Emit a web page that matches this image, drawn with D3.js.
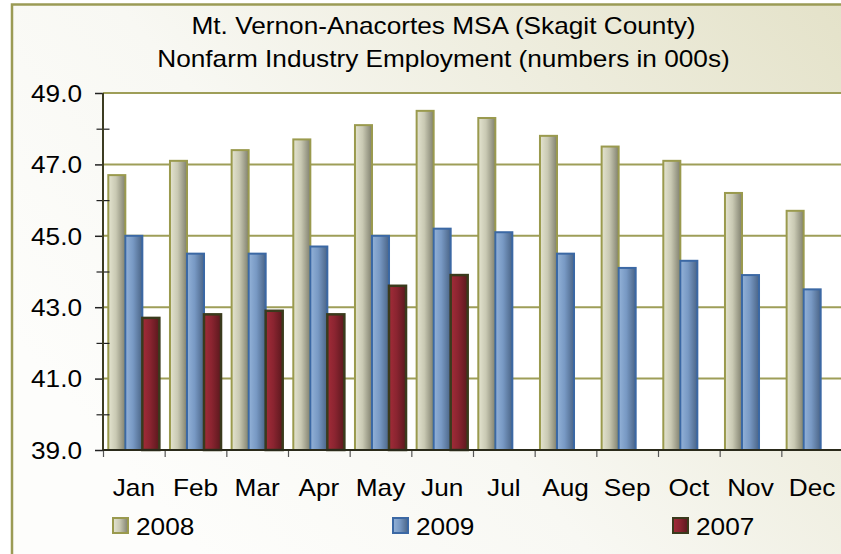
<!DOCTYPE html>
<html>
<head>
<meta charset="utf-8">
<script src="https://cdn.jsdelivr.net/npm/d3@7"></script>
<style>
  body { margin: 0; background: #fff; }
  svg { display: block; }
  text { font-family: "Liberation Sans", Arial, sans-serif; fill: #000; }
</style>
</head>
<body>
<div id="chart"></div>
<script>
// data
const months = ['Jan', 'Feb', 'Mar', 'Apr', 'May', 'Jun', 'Jul', 'Aug', 'Sep', 'Oct', 'Nov', 'Dec'];
const seriesNames = ['2008', '2009', '2007'];
const values2008 = [46.7, 47.1, 47.4, 47.7, 48.1, 48.5, 48.3, 47.8, 47.5, 47.1, 46.2, 45.7];
const values2009 = [45.0, 44.5, 44.5, 44.7, 45.0, 45.2, 45.1, 44.5, 44.1, 44.3, 43.9, 43.5];
const values2007 = [42.7, 42.8, 42.9, 42.8, 43.6, 43.9, null, null, null, null, null, null];
const majorTicks = [39, 41, 43, 45, 47, 49];
const minorTicks = [40, 42, 44, 46, 48];
const titleLines = ['Mt. Vernon-Anacortes MSA (Skagit County)', 'Nonfarm Industry Employment (numbers in 000s)'];

// constants
const W = 841, H = 554;
const fontSize = 23, stretch = 1.14;
const margins = { top: 93, left: 103 };
const plotW = 740, plotH = 357;

const styles = {
  '2008': { stroke: '#9a9a4e', width: 2, stops: ['#e4e4d0', '#c9c9b3', '#80806e'] },
  '2009': { stroke: '#3b68a4', width: 2, stops: ['#93b2d8', '#7899c4', '#4a6486'] },
  '2007': { stroke: '#3a3a1c', width: 2.5, stops: ['#a22c38', '#8a2430', '#5a181d'] }
};

const rows = months.map((m, i) => ({
  month: m,
  '2008': values2008[i],
  '2009': values2009[i],
  '2007': values2007[i]
}));

const $svg = d3.select('#chart').append('svg')
  .attr('width', W)
  .attr('height', H);

const defs = $svg.append('defs');

const bg = defs.append('linearGradient')
  .attr('id', 'bg')
  .attr('gradientUnits', 'userSpaceOnUse')
  .attr('x1', 841).attr('y1', 0)
  .attr('x2', 200).attr('y2', 554);
bg.append('stop').attr('offset', '0%').attr('stop-color', '#e4e2c9');
bg.append('stop').attr('offset', '65%').attr('stop-color', '#f8f8f3');
bg.append('stop').attr('offset', '100%').attr('stop-color', '#fdfdfb');

seriesNames.forEach(s => {
  const g = defs.append('linearGradient')
    .attr('id', 'grad' + s)
    .attr('x1', 0).attr('y1', 0).attr('x2', 1).attr('y2', 0);
  g.append('stop').attr('offset', '0%').attr('stop-color', styles[s].stops[0]);
  g.append('stop').attr('offset', '45%').attr('stop-color', styles[s].stops[1]);
  g.append('stop').attr('offset', '100%').attr('stop-color', styles[s].stops[2]);
});

// outer frame
$svg.append('rect')
  .attr('x', 12).attr('y', 4.5)
  .attr('width', 900).attr('height', 600)
  .attr('fill', 'url(#bg)')
  .attr('stroke', '#9b9b55')
  .attr('stroke-width', 2.5);

// helper for the wide text of the original
function stretchText(sel, x, y, anchor) {
  return sel.attr('x', 0).attr('y', 0)
    .attr('text-anchor', anchor)
    .attr('font-size', fontSize)
    .attr('transform', `translate(${x},${y}) scale(${stretch},1)`);
}

// title
titleLines.forEach((t, i) => {
  stretchText($svg.append('text').text(t), 443.5, 34 + i * 33, 'middle');
});

// scales
const x0 = d3.scaleBand()
  .domain(months)
  .range([0, plotW])
  .paddingInner(0.172)
  .paddingOuter(0.086);

const x1 = d3.scaleBand()
  .domain(seriesNames)
  .range([0, x0.bandwidth()]);

const xEdges = d3.scaleLinear()
  .domain([0, months.length])
  .range([0, plotW]);

const y = d3.scaleLinear()
  .domain([39, 49])
  .range([plotH, 0]);

const $g = $svg.append('g')
  .attr('transform', `translate(${margins.left},${margins.top})`);

$g.append('rect')
  .attr('width', plotW + 10)
  .attr('height', plotH)
  .attr('fill', '#fff');

// gridlines
$g.append('g')
  .selectAll('line')
  .data(majorTicks.filter(t => t > 39))
  .enter()
  .append('line')
  .attr('x1', 0).attr('x2', plotW + 10)
  .attr('y1', d => y(d)).attr('y2', d => y(d))
  .attr('stroke', '#9e9e58')
  .attr('stroke-width', 2);

// bars
const $groups = $g.selectAll('.month')
  .data(rows)
  .enter()
  .append('g')
  .classed('month', true)
  .attr('transform', d => `translate(${x0(d.month)},0)`);

$groups.selectAll('rect')
  .data(d => seriesNames.filter(s => d[s] != null).map(s => ({ key: s, value: d[s] })))
  .enter()
  .append('rect')
  .attr('x', d => x1(d.key))
  .attr('y', d => y(d.value))
  .attr('width', x1.bandwidth())
  .attr('height', d => y(39) - y(d.value))
  .attr('fill', d => `url(#grad${d.key})`)
  .attr('stroke', d => styles[d.key].stroke)
  .attr('stroke-width', d => styles[d.key].width);

// axes
const yAxis = d3.axisLeft(y)
  .tickValues(majorTicks)
  .tickSize(8)
  .tickPadding(0)
  .tickFormat(d3.format('.1f'));

const $yAxis = $g.append('g').call(yAxis);
$yAxis.select('.domain').remove();
$yAxis.selectAll('line').attr('stroke', '#222').attr('stroke-width', 1.5);
$yAxis.selectAll('text').each(function (d) {
  stretchText(d3.select(this), -21, 8.2, 'end').attr('dy', null).attr('fill', '#000');
});

const $yMinor = $g.append('g')
  .attr('transform', 'translate(6.5,0)')
  .call(d3.axisLeft(y).tickValues(minorTicks).tickSize(13).tickFormat(''));
$yMinor.select('.domain').remove();
$yMinor.selectAll('line').attr('stroke', '#222').attr('stroke-width', 1.2);

const $xTicks = $g.append('g')
  .attr('transform', `translate(0,${plotH})`)
  .call(d3.axisBottom(xEdges).tickValues(d3.range(months.length + 1)).tickSize(7).tickFormat(''));
$xTicks.select('.domain').remove();
$xTicks.selectAll('line').attr('stroke', '#555').attr('stroke-width', 1.2);

const $xLabels = $g.append('g')
  .attr('transform', `translate(0,${plotH})`)
  .call(d3.axisBottom(x0).tickSize(0));
$xLabels.select('.domain').remove();
$xLabels.selectAll('text').each(function () {
  stretchText(d3.select(this), 0, 46, 'middle').attr('dy', null).attr('fill', '#000');
});

// axis lines
$g.append('line')
  .attr('x1', 0).attr('x2', 0)
  .attr('y1', 0).attr('y2', plotH)
  .attr('stroke', '#3c3c22').attr('stroke-width', 2);
$g.append('line')
  .attr('x1', 0).attr('x2', plotW + 10)
  .attr('y1', plotH).attr('y2', plotH)
  .attr('stroke', '#2a2a1a').attr('stroke-width', 2);

// legend
const legendX = [113, 393, 673];
const $legend = $svg.append('g')
  .selectAll('.legend')
  .data(seriesNames)
  .enter()
  .append('g')
  .classed('legend', true)
  .attr('transform', (d, i) => `translate(${legendX[i]},518)`);

$legend.append('rect')
  .attr('width', 15)
  .attr('height', 15)
  .attr('fill', d => `url(#grad${d})`)
  .attr('stroke', d => styles[d].stroke)
  .attr('stroke-width', 2);

$legend.append('text')
  .text(d => d)
  .each(function () {
    stretchText(d3.select(this), 23, 16.5, 'start');
  });
</script>
</body>
</html>
